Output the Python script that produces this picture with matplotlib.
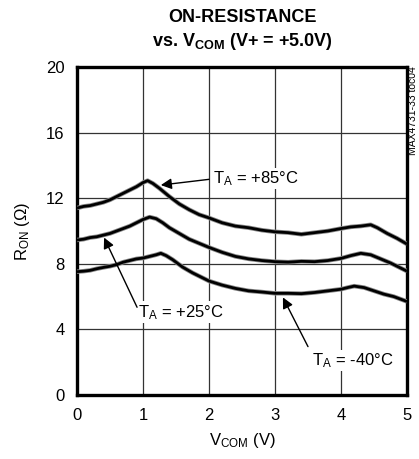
"""MAX4731 on-resistance vs V_COM (V+ = +5.0V), three temperatures."""
import numpy as np
import matplotlib
matplotlib.use("Agg")
import matplotlib.pyplot as plt

FONT = ["Liberation Sans Narrow", "Liberation Sans", "DejaVu Sans"]
plt.rcParams["font.family"] = FONT
plt.rcParams["mathtext.fontset"] = "custom"
plt.rcParams["mathtext.rm"] = "Liberation Sans"
plt.rcParams["mathtext.bf"] = "Liberation Sans:bold"

# --- values ---
v_85 = [0, 0.1, 0.2, 0.3, 0.4, 0.5, 0.6, 0.7, 0.8, 0.9, 1.0, 1.07, 1.15, 1.25,
        1.4, 1.55, 1.7, 1.85, 2.0, 2.2, 2.4, 2.6, 2.8, 3.0, 3.2, 3.4, 3.6, 3.8,
        4.0, 4.15, 4.3, 4.45, 4.55, 4.7, 4.85, 5.0]
r_85 = [11.4, 11.5, 11.55, 11.65, 11.75, 11.9, 12.1, 12.3, 12.5, 12.7, 12.95,
        13.07, 12.9, 12.6, 12.1, 11.65, 11.3, 11.0, 10.8, 10.5, 10.3, 10.2,
        10.05, 9.95, 9.9, 9.8, 9.9, 10.0, 10.15, 10.25, 10.3, 10.38, 10.2,
        9.85, 9.55, 9.2]
v_25 = [0, 0.1, 0.2, 0.3, 0.4, 0.5, 0.6, 0.7, 0.8, 0.9, 1.0, 1.1, 1.2, 1.3,
        1.4, 1.55, 1.7, 1.85, 2.0, 2.2, 2.4, 2.6, 2.8, 3.0, 3.2, 3.4, 3.6, 3.8,
        4.0, 4.15, 4.3, 4.45, 4.6, 4.75, 4.9, 5.0]
r_25 = [9.45, 9.5, 9.6, 9.65, 9.75, 9.85, 10.0, 10.15, 10.3, 10.5, 10.7, 10.85,
        10.75, 10.5, 10.2, 9.85, 9.5, 9.25, 9.0, 8.7, 8.45, 8.3, 8.2, 8.13,
        8.1, 8.15, 8.13, 8.2, 8.33, 8.5, 8.64, 8.55, 8.3, 8.05, 7.75, 7.55]
v_m40 = [0, 0.1, 0.2, 0.3, 0.4, 0.5, 0.6, 0.7, 0.8, 0.9, 1.0, 1.1, 1.2, 1.27,
         1.35, 1.45, 1.6, 1.75, 1.9, 2.0, 2.2, 2.4, 2.6, 2.8, 3.0, 3.2, 3.4,
         3.6, 3.8, 4.0, 4.1, 4.2, 4.35, 4.5, 4.65, 4.8, 5.0]
r_m40 = [7.52, 7.55, 7.6, 7.7, 7.78, 7.85, 7.95, 8.1, 8.2, 8.3, 8.35, 8.45,
         8.55, 8.64, 8.5, 8.25, 7.8, 7.45, 7.15, 6.95, 6.7, 6.5, 6.35, 6.28,
         6.2, 6.2, 6.18, 6.25, 6.35, 6.45, 6.55, 6.64, 6.55, 6.35, 6.15, 6.0,
         5.7]

x_ticks = [0, 1, 2, 3, 4, 5]
y_ticks = [0, 4, 8, 12, 16, 20]

fig = plt.figure(figsize=(4.19, 4.59), dpi=100)
ax = fig.add_axes([77 / 419, 1 - 395 / 459, 330 / 419, 328 / 459])

for v, r in ((v_85, r_85), (v_25, r_25), (v_m40, r_m40)):
    ax.plot(v, r, color="#888888", lw=3.2, solid_capstyle="butt", zorder=3)
    ax.plot(v, r, color="black", lw=2.0, solid_capstyle="butt", zorder=4)

ax.set_xlim(0, 5)
ax.set_ylim(0, 20)
ax.set_xticks(x_ticks)
ax.set_yticks(y_ticks)
ax.tick_params(length=0, labelsize=12, pad=9)
ax.grid(True, color="#333333", lw=0.9)
ax.set_axisbelow(True)
for s in ax.spines.values():
    s.set_linewidth(2.4)

ax.set_xlabel(r"$\mathregular{V_{COM}}$ (V)", fontsize=12, labelpad=6)
ax.set_ylabel(r"$\mathregular{R_{ON}}$ ($\Omega$)", fontsize=12, labelpad=10)

fig.text(242 / 419, 1 - 17 / 459, "ON-RESISTANCE", ha="center", va="center",
         fontsize=13, fontweight="bold")
fig.text(242 / 419, 1 - 41 / 459, r"vs. $\mathbf{V_{COM}}$ (V+ = +5.0V)",
         ha="center", va="center", fontsize=13, fontweight="bold")
fig.text(413 / 419, 1 - 66 / 459, "MAX4731-33 toc04", rotation=90,
         ha="center", va="top", fontsize=7.5)

# curve labels with arrows
box = dict(facecolor="white", edgecolor="none", pad=1)
arrow = dict(arrowstyle="-|>", color="black", lw=1.0, mutation_scale=16,
             shrinkA=0, shrinkB=0)
ax.text(2.06, 13.2, r"$\mathregular{T_A}$ = +85°C", fontsize=12, va="center",
        bbox=box, zorder=5)
ax.annotate("", xy=(1.27, 12.8), xytext=(2.0, 13.15), arrowprops=arrow, zorder=6)
ax.text(0.92, 5.05, r"$\mathregular{T_A}$ = +25°C", fontsize=12, va="center",
        bbox=box, zorder=5)
ax.annotate("", xy=(0.41, 9.6), xytext=(0.91, 5.35), arrowprops=arrow, zorder=6)
ax.text(3.56, 2.1, r"$\mathregular{T_A}$ = -40°C", fontsize=12, va="center",
        bbox=box, zorder=5)
ax.annotate("", xy=(3.12, 5.95), xytext=(3.5, 2.95), arrowprops=arrow, zorder=6)

fig.savefig("out.png", dpi=100)
